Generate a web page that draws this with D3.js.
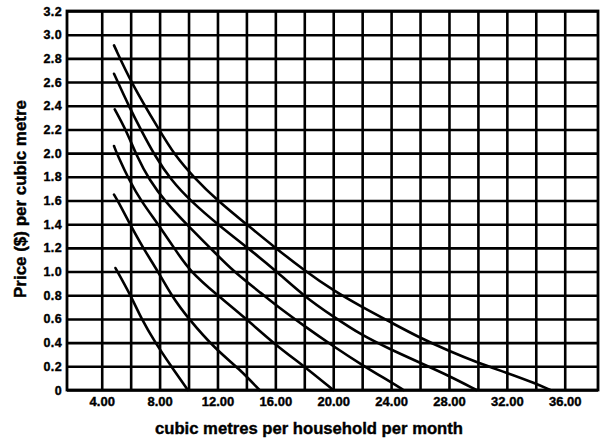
<!DOCTYPE html>
<html>
<head>
<meta charset="utf-8">
<script src="https://cdn.jsdelivr.net/npm/d3@7"></script>
<style>
  html, body { margin: 0; padding: 0; background: #fff; }
  svg { display: block; }
  text { font-family: "Liberation Sans", Arial, sans-serif; font-weight: bold; fill: #000; }
</style>
</head>
<body>
<svg id="chart" width="605" height="444"></svg>
<script>
// ---- data ----
const xTickValues = [4, 8, 12, 16, 20, 24, 28, 32, 36];
const xTickLabels = ["4.00", "8.00", "12.00", "16.00", "20.00", "24.00", "28.00", "32.00", "36.00"];
const xGridValues = [4, 6, 8, 10, 12, 14, 16, 18, 20, 22, 24, 26, 28, 30, 32, 34, 36];
const yTickValues = [0, 0.2, 0.4, 0.6, 0.8, 1.0, 1.2, 1.4, 1.6, 1.8, 2.0, 2.2, 2.4, 2.6, 2.8, 3.0, 3.2];
const yTickLabels = ["0", "0.2", "0.4", "0.6", "0.8", "1.0", "1.2", "1.4", "1.6", "1.8", "2.0", "2.2", "2.4", "2.6", "2.8", "3.0", "3.2"];
const xDomain = [1.6, 38.3];
const yDomain = [0, 3.2];
const xTitle = "cubic metres per household per month";
const yTitle = "Price ($) per cubic metre";

const curve1 = [[4.85,2.91],[6.05,2.59],[8,2.19],[9,1.99],[10.4,1.79],[12,1.6],[14,1.4],[16,1.2],[18,1.01],[20,0.84],[22,0.7],[24,0.57],[26,0.44],[28,0.33],[30,0.23],[32,0.145],[34,0.055],[35,0]];
const curve2 = [[4.85,2.67],[5.9,2.39],[6.74,2.19],[7.66,1.98],[8.8,1.77],[10.2,1.59],[12,1.4],[14.1,1.2],[16.1,1.0],[18,0.79],[20,0.62],[22,0.46],[24,0.34],[26,0.23],[28,0.12],[29.9,0]];
const curve3 = [[4.9,2.37],[5.7,2.19],[6.4,1.98],[7.3,1.77],[8.4,1.59],[9.85,1.4],[11.5,1.2],[13.1,1.0],[15.2,0.8],[16,0.72],[18,0.54],[20,0.37],[22,0.21],[24,0.065],[24.85,0]];
const curve4 = [[4.85,2.06],[5.1,1.98],[5.9,1.77],[6.75,1.59],[7.9,1.4],[9,1.2],[10.1,1.0],[12,0.8],[14,0.6],[16,0.38],[18,0.2],[20,0]];
const curve5 = [[4.85,1.65],[5.1,1.6],[5.95,1.4],[6.85,1.2],[7.9,1.0],[8.8,0.8],[10,0.6],[11.9,0.34],[13.5,0.18],[14.9,0]];
const curve6 = [[4.95,1.03],[6,0.8],[6.74,0.6],[7.7,0.4],[8.8,0.2],[9.95,0]];
const curves = [curve1, curve2, curve3, curve4, curve5, curve6];

// ---- layout ----
const plot = { left: 67, right: 598, top: 11, bottom: 390 };
const svg = d3.select("#chart");

const x = d3.scaleLinear().domain(xDomain).range([plot.left, plot.right]);
const y = d3.scaleLinear().domain(yDomain).range([plot.bottom, plot.top]);

// vertical grid lines
svg.append("g")
  .attr("transform", `translate(0,${plot.bottom})`)
  .call(d3.axisBottom(x).tickValues(xGridValues).tickSize(-(plot.bottom - plot.top)).tickFormat(""))
  .call(g => g.select(".domain").remove())
  .call(g => g.selectAll("line").attr("stroke", "#000").attr("stroke-width", 2.6));

// horizontal grid lines
svg.append("g")
  .attr("transform", `translate(${plot.left},0)`)
  .call(d3.axisLeft(y).tickValues(yTickValues).tickSize(-(plot.right - plot.left)).tickFormat(""))
  .call(g => g.select(".domain").remove())
  .call(g => g.selectAll("line").attr("stroke", "#000").attr("stroke-width", 2.6));

// frame
svg.append("rect")
  .attr("x", x(xDomain[0])).attr("y", y(yDomain[1]))
  .attr("width", x(xDomain[1]) - x(xDomain[0]))
  .attr("height", y(yDomain[0]) - y(yDomain[1]))
  .attr("fill", "none").attr("stroke", "#000").attr("stroke-width", 2.8);

// x tick labels
svg.append("g")
  .attr("transform", `translate(0,${plot.bottom + 3})`)
  .call(d3.axisBottom(x).tickValues(xTickValues).tickSize(0).tickPadding(4)
    .tickFormat((d, i) => xTickLabels[i]))
  .call(g => g.select(".domain").remove())
  .call(g => g.selectAll("text").attr("font-size", 13).attr("font-family", "Liberation Sans, Arial, sans-serif")
    .attr("font-weight", "bold").attr("stroke", "#000").attr("stroke-width", 0.4));

// y tick labels
svg.append("g")
  .attr("transform", `translate(${plot.left - 4},0)`)
  .call(d3.axisLeft(y).tickValues(yTickValues).tickSize(0).tickPadding(1)
    .tickFormat((d, i) => yTickLabels[i]))
  .call(g => g.select(".domain").remove())
  .call(g => g.selectAll("text").attr("font-size", 12.5).attr("font-family", "Liberation Sans, Arial, sans-serif")
    .attr("font-weight", "bold").attr("letter-spacing", "0.4").attr("stroke", "#000").attr("stroke-width", 0.4));

// curves
const line = d3.line().x(d => x(d[0])).y(d => y(d[1])).curve(d3.curveBasis);
svg.append("g").selectAll("path").data(curves).join("path")
  .attr("d", line)
  .attr("fill", "none").attr("stroke", "#000").attr("stroke-width", 2.6)
  .attr("stroke-linecap", "round");

// axis titles
svg.append("text")
  .attr("x", 309).attr("y", 434)
  .attr("text-anchor", "middle")
  .attr("font-size", 17)
  .attr("textLength", 308).attr("lengthAdjust", "spacingAndGlyphs")
  .attr("stroke", "#000").attr("stroke-width", 0.4)
  .text(xTitle);

svg.append("text")
  .attr("transform", "translate(20,199) rotate(-90)")
  .attr("text-anchor", "middle")
  .attr("dominant-baseline", "central")
  .attr("font-size", 16.5)
  .attr("textLength", 198).attr("lengthAdjust", "spacingAndGlyphs")
  .attr("stroke", "#000").attr("stroke-width", 0.4)
  .text(yTitle);
</script>
</body>
</html>
